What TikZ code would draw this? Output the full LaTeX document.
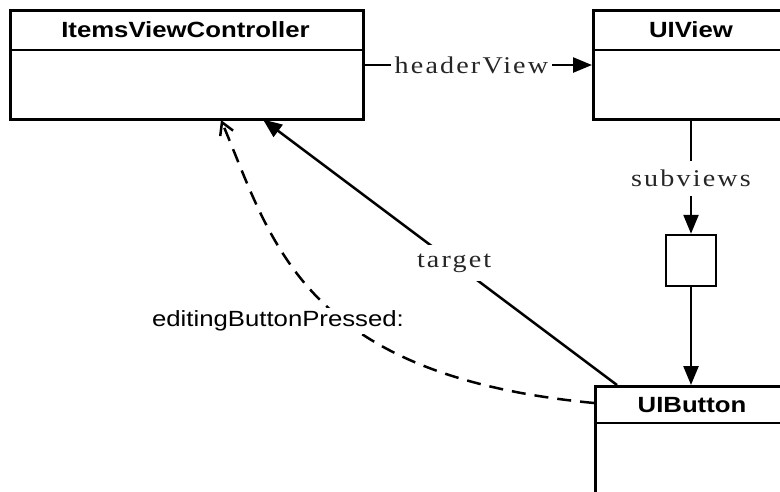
\documentclass[tikz,border=0pt]{standalone}
\usepackage{fontspec}
\usetikzlibrary{arrows.meta}
\newfontfamily\boxfont[FakeStretch=1.17]{Liberation Sans}
\newfontfamily\labfont[FakeStretch=1.17,LetterSpace=9]{Liberation Serif}
\newfontfamily\selfont[FakeStretch=1.17]{Liberation Sans}
\begin{document}
\begin{tikzpicture}[x=1pt,y=-1pt, line width=2.5pt,
  box/.style={draw, rectangle, anchor=north west, inner sep=0pt},
  boxtitle/.style={font=\boxfont\bfseries\fontsize{22}{24}\selectfont, inner sep=0pt},
  lab/.style={font=\labfont\fontsize{24}{26}\selectfont, text=black!85, fill=white, inner xsep=4pt, inner ysep=9pt},
  arr/.style={-{Triangle[length=19pt,width=15pt]}},
  darr/.style={dash pattern=on 14pt off 9pt, -{Straight Barb[length=12pt,width=14pt]}}]
\useasboundingbox (0,0) rectangle (780,491);
\clip (0,0) rectangle (780,491);
% boxes
\node[box, minimum width=353pt, minimum height=109pt] (ivc) at (9,9) {};
\draw (ivc.west |- 0,50) -- (ivc.east |- 0,50);
\node[boxtitle] (ivct) at (185.5,30) {ItemsViewController};

\node[box, minimum width=200pt, minimum height=109pt] (uiv) at (592,9) {};
\draw (uiv.west |- 0,50) -- (uiv.east |- 0,50);
\node[boxtitle] (uivt) at (691,30) {UIView};

\node[draw, rectangle, minimum width=50pt, minimum height=51pt, inner sep=0pt] (sv) at (691,260.5) {};

\node[box, minimum width=200pt, minimum height=150pt] (uib) at (594,385) {};
\draw (uib.west |- 0,423) -- (uib.east |- 0,423);
\node[boxtitle] (uibt) at (692,405) {UIButton};

% connectors
\draw[arr] (ivc.east |- 0,65) -- node[lab, pos=0.47] {headerView} (uiv.west |- 0,65);
\draw[arr] (sv.north |- uiv.south) -- node[lab, pos=0.51] {subviews} (sv.north);
\draw[arr] (sv.south) -- (sv.south |- uib.north);

\coordinate (tA) at (617,385);
\coordinate (tB) at (263,119.5);
\draw[arr] (tA) -- node[lab, pos=0.46] {target} (tB);

\coordinate (dA) at (594,403);
\coordinate (dB) at (221,120);
\draw[darr] (dA) .. controls (300,375) and (272,240) .. (dB);
\node[font=\selfont\fontsize{22}{24}\selectfont, fill=white, inner sep=3pt] (ebp) at (278,321) {editingButtonPressed:};
\end{tikzpicture}
\end{document}
